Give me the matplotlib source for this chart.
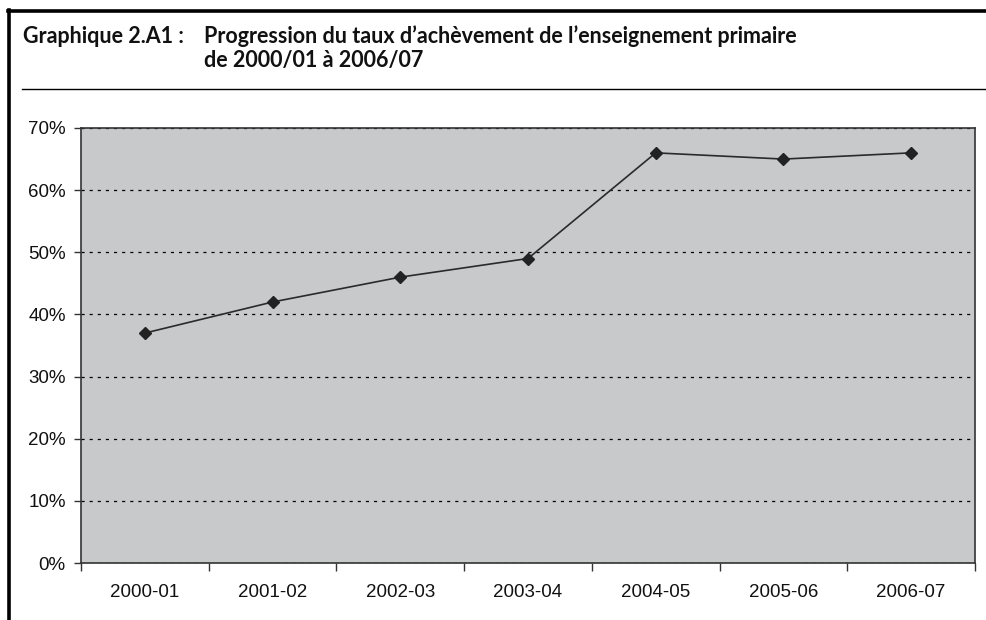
import matplotlib.pyplot as plt
from matplotlib.lines import Line2D
from matplotlib.ticker import FuncFormatter, MultipleLocator

# Taux d'achèvement du primaire, par année scolaire
annees = ['2000-01', '2001-02', '2002-03', '2003-04', '2004-05', '2005-06', '2006-07']
taux = [37, 42, 46, 49, 66, 65, 66]

W, H = 987, 620
fig = plt.figure(figsize=(W / 100, H / 100), dpi=100)

# Cadre et filets du titre
def hline(y, x0, x1, lw):
    fig.add_artist(Line2D([x0 / W, x1 / W], [1 - y / H, 1 - y / H], color='black', lw=lw))

hline(11, 8, W, 2.6)
hline(89, 22, W, 1.0)
fig.add_artist(Line2D([9 / W, 9 / W], [1 - 10 / H, 0], color='black', lw=2.6))

titre_font = dict(family='Lato', weight='bold', fontsize=15.5, color='#111111')
fig.text(23 / W, 1 - 43 / H, 'Graphique 2.A1 :', va='baseline', **titre_font)
fig.text(204 / W, 1 - 43 / H, 'Progression du taux d\u2019achèvement de l\u2019enseignement primaire',
         va='baseline', **titre_font)
fig.text(204 / W, 1 - 67 / H, 'de 2000/01 à 2006/07', va='baseline', **titre_font)

# Zone du graphique
x0, x1, y0, y1 = 81, 975, 128, 563
ax = fig.add_axes([x0 / W, 1 - y1 / H, (x1 - x0) / W, (y1 - y0) / H])
ax.set_facecolor('#c8c9cb')
for s in ax.spines.values():
    s.set_color('#333333')
    s.set_linewidth(1.2)

pos = list(range(len(annees)))
ax.plot(pos, taux, color='#2a2a2a', lw=1.2, marker='D', ms=6.5, mfc='#222222', mec='#222222')

ax.set_xlim(-0.5, len(annees) - 0.5)
ax.set_ylim(0, 70)
ax.yaxis.set_major_locator(MultipleLocator(10))
ax.yaxis.set_major_formatter(FuncFormatter(lambda v, p: f'{v:.0f}%'))
ax.grid(axis='y', color='black', lw=0.9, linestyle=(0, (2.5, 4)))
ax.set_axisbelow(True)

ax.set_xticks([p - 0.5 for p in pos] + [len(annees) - 0.5])
ax.set_xticklabels([])
ax.set_xticks(pos, minor=True)
ax.set_xticklabels(annees, minor=True)
ax.tick_params(axis='x', which='major', length=6, color='#333333', width=1)
ax.tick_params(axis='x', which='minor', length=0, pad=15)
ax.tick_params(axis='y', length=5, color='#333333', width=1, pad=6)
for lab in ax.get_xticklabels(minor=True) + ax.get_yticklabels():
    lab.set_family('Liberation Sans')
    lab.set_fontsize(13.5)
    lab.set_color('#111111')

fig.savefig('out.png', dpi=100)
